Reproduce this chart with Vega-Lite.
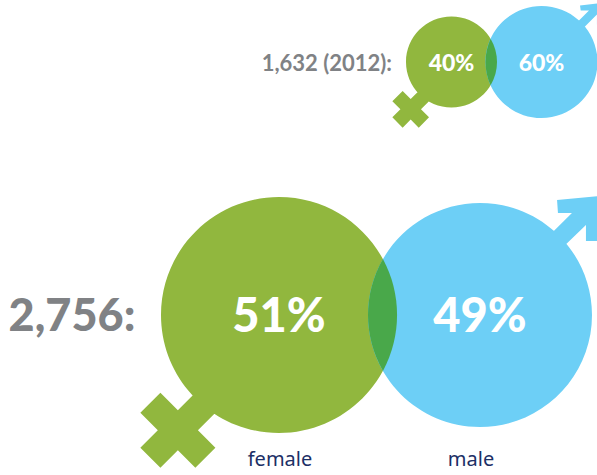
{
"$schema":"https://vega.github.io/schema/vega-lite/v6.json",
"width":597,"height":475,"autosize":"none","padding":0,"background":"#ffffff",
"config":{"view":{"stroke":null}},
"data":{"values":[
{"cohort":"2012","gender":"total","count":1632,"label":"1,632 (2012):"},
{"cohort":"2012","gender":"female","count":653,"label":"40%"},
{"cohort":"2012","gender":"male","count":979,"label":"60%"},
{"cohort":"latest","gender":"total","count":2756,"label":"2,756:"},
{"cohort":"latest","gender":"female","count":1406,"label":"51%"},
{"cohort":"latest","gender":"male","count":1350,"label":"49%"}
]},
"resolve":{"scale":{"x":"independent","shape":"independent"}},
"layer":[
{"transform":[{"filter":"datum.cohort=='2012'"}],
 "encoding":{
  "y":{"field":"cohort","type":"nominal","axis":null,"scale":{"type":"point","domain":["2012","latest"],"range":[62,315],"padding":0}}
 },
 "layer":[
  {"transform":[{"filter":"datum.gender!='total'"}],
   "mark":{"type":"point","filled":true,"opacity":1},
   "encoding":{
    "x":{"field":"gender","type":"nominal","axis":null,"scale":{"type":"point","domain":["female","male"],"range":[451.5,541.5],"padding":0}},
    "size":{"field":"count","type":"quantitative","legend":null,"scale":{"domain":[0,653,979,1350,1406],"range":[0,8281,12544,50176,55696]}},
    "color":{"field":"gender","type":"nominal","legend":null,"scale":{"domain":["female","male"],"range":["#91b73e","#6dcff6"]}},
    "shape":{"field":"gender","type":"nominal","legend":null,"scale":{"domain":["female","male"],"range":[
     "M-1 0A1 1 0 1 1 1 0A1 1 0 1 1 -1 0ZM-.51 .427L-.284 .653L-.671 1.04L-.494 1.217L-.72 1.443L-.897 1.266L-1.074 1.443L-1.3 1.217L-1.123 1.04L-1.3 .863L-1.074 .637L-.897 .814Z",
     "M-1 0A1 1 0 1 1 1 0A1 1 0 1 1 -1 0ZM.58 -.652L.848 -.92L.7 -.92L.6875 -1.009L1.134 -1.0625L1.134 -.67L.99 -.67L.99 -.848L.6875 -.545Z"]}}
   }},
  {"transform":[{"filter":"datum.gender=='female'"}],
   "mark":{"type":"point","filled":true,"opacity":1,"color":"#49a84a","shape":"M.859 -.512A1 1 0 0 1 .859 .512A1.231 1.231 0 0 1 .859 -.512Z"},
   "encoding":{
    "x":{"field":"gender","type":"nominal","axis":null,"scale":{"type":"point","domain":["female","male"],"range":[451.5,541.5],"padding":0}},
    "size":{"field":"count","type":"quantitative","legend":null,"scale":{"domain":[0,653,979,1350,1406],"range":[0,8281,12544,50176,55696]}}}},
  {"transform":[{"filter":"datum.gender!='total'"}],
   "mark":{"type":"text","font":"Lato","fontWeight":900,"fontSize":23,"color":"#ffffff","baseline":"middle","dy":2},
   "encoding":{
    "x":{"field":"gender","type":"nominal","axis":null,"scale":{"type":"point","domain":["female","male"],"range":[451.5,541.5],"padding":0}},
    "text":{"field":"label"}}},
  {"transform":[{"filter":"datum.gender=='total'"}],
   "mark":{"type":"text","font":"Lato","fontWeight":700,"fontSize":22,"color":"#808285","baseline":"middle","align":"right","dx":-59.5,"dy":2},
   "encoding":{
    "x":{"datum":"female","type":"nominal","axis":null,"scale":{"type":"point","domain":["female","male"],"range":[451.5,541.5],"padding":0}},
    "text":{"field":"label"}}}
 ]},
{"transform":[{"filter":"datum.cohort=='latest'"}],
 "encoding":{
  "y":{"field":"cohort","type":"nominal","axis":null,"scale":{"type":"point","domain":["2012","latest"],"range":[62,315],"padding":0}}
 },
 "layer":[
  {"transform":[{"filter":"datum.gender!='total'"}],
   "mark":{"type":"point","filled":true,"opacity":1},
   "encoding":{
    "x":{"field":"gender","type":"nominal","axis":null,"scale":{"type":"point","domain":["female","male"],"range":[279,480],"padding":0}},
    "size":{"field":"count","type":"quantitative","legend":null,"scale":{"domain":[0,653,979,1350,1406],"range":[0,8281,12544,50176,55696]}},
    "color":{"field":"gender","type":"nominal","legend":null,"scale":{"domain":["female","male"],"range":["#91b73e","#6dcff6"]}},
    "shape":{"field":"gender","type":"nominal","legend":null,"scale":{"domain":["female","male"],"range":[
     "M-1 0A1 1 0 1 1 1 0A1 1 0 1 1 -1 0ZM-.442 .392L-.272 .562L-.687 .977L-.539 1.125L-.709 1.295L-.857 1.147L-1.005 1.295L-1.175 1.125L-1.027 .977L-1.175 .829L-1.005 .659L-.857 .807Z",
     "M-1 0A1 1 0 1 1 1 0A1 1 0 1 1 -1 0ZM.58 -.672L.821 -.911L.696 -.911L.688 -1.027L1.071 -1.0625L1.071 -.661L.946 -.661L.946 -.804L.694 -.56Z"]}}
   }},
  {"transform":[{"filter":"datum.gender=='female'"}],
   "mark":{"type":"point","filled":true,"opacity":1,"color":"#49a84a","shape":"M.881 -.474A1 1 0 0 1 .881 .474A.949 .949 0 0 1 .881 -.474Z"},
   "encoding":{
    "x":{"field":"gender","type":"nominal","axis":null,"scale":{"type":"point","domain":["female","male"],"range":[279,480],"padding":0}},
    "size":{"field":"count","type":"quantitative","legend":null,"scale":{"domain":[0,653,979,1350,1406],"range":[0,8281,12544,50176,55696]}}}},
  {"transform":[{"filter":"datum.gender!='total'"}],
   "mark":{"type":"text","font":"Lato","fontWeight":900,"fontSize":47,"color":"#ffffff","baseline":"middle","dy":3},
   "encoding":{
    "x":{"field":"gender","type":"nominal","axis":null,"scale":{"type":"point","domain":["female","male"],"range":[279,480],"padding":0}},
    "text":{"field":"label"}}},
  {"transform":[{"filter":"datum.gender=='total'"}],
   "mark":{"type":"text","font":"Lato","fontWeight":900,"fontSize":45,"color":"#808285","baseline":"middle","dx":-207,"dy":2},
   "encoding":{
    "x":{"datum":"female","type":"nominal","axis":null,"scale":{"type":"point","domain":["female","male"],"range":[279,480],"padding":0}},
    "text":{"field":"label"}}},
  {"transform":[{"filter":"datum.gender=='female'"}],
   "mark":{"type":"text","font":"Noto Sans","fontSize":20,"color":"#1c2f66","baseline":"middle","dy":145,"dx":1},
   "encoding":{
    "x":{"field":"gender","type":"nominal","axis":null,"scale":{"type":"point","domain":["female","male"],"range":[279,480],"padding":0}},
    "text":{"field":"gender"}}},
  {"transform":[{"filter":"datum.gender=='male'"}],
   "mark":{"type":"text","font":"Noto Sans","fontSize":20,"color":"#1c2f66","baseline":"middle","dy":145,"dx":-9},
   "encoding":{
    "x":{"field":"gender","type":"nominal","axis":null,"scale":{"type":"point","domain":["female","male"],"range":[279,480],"padding":0}},
    "text":{"field":"gender"}}}
 ]}
]
}
